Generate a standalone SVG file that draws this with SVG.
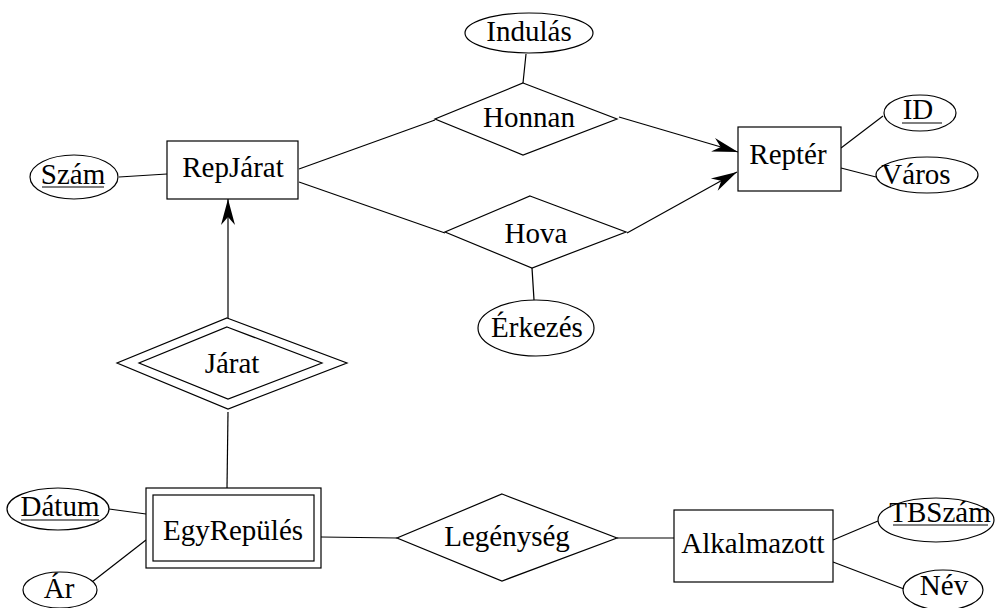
<svg xmlns="http://www.w3.org/2000/svg" width="995" height="608" viewBox="0 0 995 608">
<style>
.s{fill:#fff;stroke:#000;stroke-width:1.2}
.c line{stroke:#000;stroke-width:1.2}
.ul{stroke:#000;stroke-width:1.2}
text{font-family:"Liberation Serif","Times New Roman",serif;font-size:29px;fill:#000;text-anchor:middle}
</style>
<defs>
<marker id="ah" viewBox="-27 -8 28 16" refX="0" refY="0" markerWidth="28" markerHeight="16" markerUnits="userSpaceOnUse" orient="auto">
<path d="M0,0 L-26,-7 L-18,0 L-26,7 Z" fill="#000"/>
</marker>
</defs>
<g class="c" id="connectors">
<line x1="119" y1="177" x2="167" y2="174"/>
<line x1="299" y1="169" x2="435" y2="120"/>
<line x1="299" y1="182" x2="445" y2="233"/>
<line x1="526" y1="54" x2="523" y2="83"/>
<line x1="619" y1="117" x2="738" y2="152" marker-end="url(#ah)"/>
<line x1="627" y1="233" x2="737" y2="172" marker-end="url(#ah)"/>
<line x1="532" y1="268" x2="534" y2="300"/>
<line x1="841" y1="148" x2="883" y2="116"/>
<line x1="841" y1="168" x2="876" y2="177"/>
<line x1="228" y1="318" x2="228" y2="199" marker-end="url(#ah)"/>
<line x1="228" y1="412" x2="227" y2="488"/>
<line x1="109" y1="509" x2="146" y2="514"/>
<line x1="92" y1="582" x2="146" y2="540"/>
<line x1="321" y1="537" x2="397" y2="538"/>
<line x1="617" y1="538" x2="674" y2="538"/>
<line x1="833" y1="540" x2="878" y2="521"/>
<line x1="833" y1="562" x2="904" y2="589"/>
</g>
<g id="RepJarat"><rect class="s" x="167" y="141" width="131" height="58"/><text x="233" y="177">RepJárat</text></g>
<g id="Szam"><ellipse class="s" cx="74" cy="177" rx="44" ry="22"/><text x="73" y="184">Szám</text><line class="ul" x1="42" y1="187" x2="104" y2="187"/></g>
<g id="Honnan"><polygon class="s" points="523,83 617,119 523,155 435,119"/><text x="529" y="127">Honnan</text></g>
<g id="Indulas"><ellipse class="s" cx="529" cy="33" rx="64" ry="20"/><text x="529" y="41">Indulás</text></g>
<g id="Hova"><polygon class="s" points="530,196 626,232 532,268 445,232"/><text x="536" y="243">Hova</text></g>
<g id="Erkezes"><ellipse class="s" cx="536" cy="328" rx="58" ry="28"/><text x="537" y="337">Érkezés</text></g>
<g id="Repter"><rect class="s" x="738" y="127" width="103" height="64"/><text x="788" y="164">Reptér</text></g>
<g id="ID"><ellipse class="s" cx="920" cy="113" rx="36" ry="18"/><text x="918" y="119">ID</text><line class="ul" x1="902" y1="123" x2="942" y2="123"/></g>
<g id="Varos"><ellipse class="s" cx="927" cy="175" rx="51" ry="18"/><text x="916" y="184">Város</text></g>
<g id="Jarat"><polygon class="s" points="227,318 347,363 228,409 117,363"/><polygon class="s" points="227,327 322,363 228,399 139,363"/><text x="232" y="373">Járat</text></g>
<g id="EgyRepules"><rect class="s" x="146" y="488" width="175" height="80"/><rect class="s" x="153" y="495" width="161" height="66"/><text x="233" y="540">EgyRepülés</text></g>
<g id="Datum"><ellipse class="s" cx="58" cy="509" rx="51" ry="21"/><text x="60" y="516">Dátum</text><line class="ul" x1="21" y1="520" x2="99" y2="520"/></g>
<g id="Ar"><ellipse class="s" cx="60" cy="590" rx="37" ry="18"/><text x="59" y="598">Ár</text></g>
<g id="Legenyseg"><polygon class="s" points="502,494 617,538 502,581 397,538"/><text x="507" y="546">Legénység</text></g>
<g id="Alkalmazott"><rect class="s" x="674" y="510" width="159" height="72"/><text x="753" y="553">Alkalmazott</text></g>
<g id="TBSzam"><ellipse class="s" cx="936" cy="520" rx="58" ry="22"/><text x="940" y="522">TBSzám</text><line class="ul" x1="893" y1="525" x2="988" y2="525"/></g>
<g id="Nev"><ellipse class="s" cx="943" cy="590" rx="40" ry="20"/><text x="944" y="595">Név</text></g>
</svg>
